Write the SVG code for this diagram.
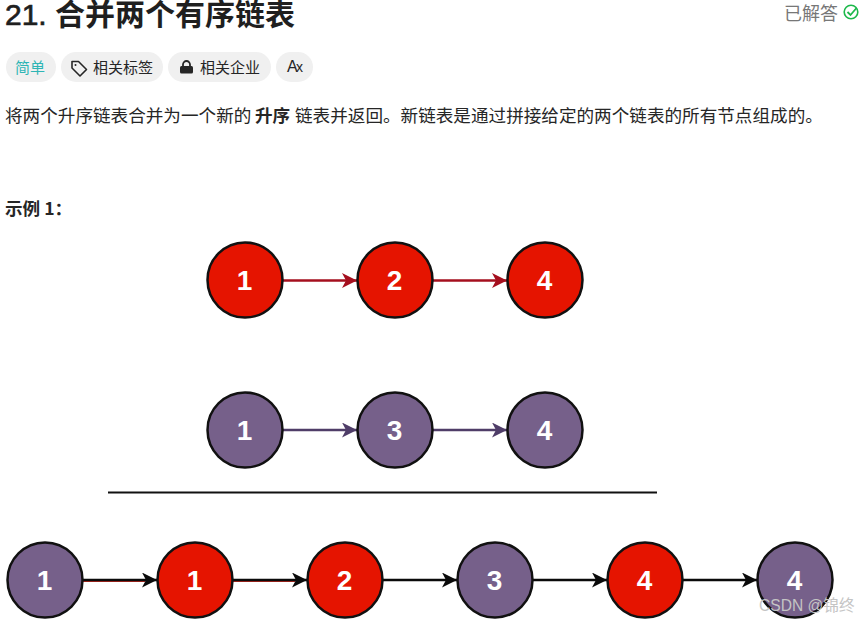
<svg xmlns="http://www.w3.org/2000/svg" width="859" height="621" viewBox="0 0 859 621">
<style>
text{font-family:"Liberation Sans","Noto Sans CJK SC",sans-serif}
.cn{font-family:"Noto Sans CJK SC","Liberation Sans",sans-serif}
.pill{fill:#f0f0f0}
.tag{font-size:15px;fill:#262626}
.body{font-size:17.600px;fill:#262626}
.n{stroke:#111;stroke-width:2.500}
.red{fill:#e51400}
.pur{fill:#76608a}
.l{font-size:28px;font-weight:bold;fill:#fff;text-anchor:middle}
.c{fill:none;stroke-width:2.400}
.u{fill:none;stroke:#c0281e;stroke-width:1}
</style>
<defs>
<marker id="ar" markerWidth="16" markerHeight="16" refX="15" refY="7.500" orient="auto" markerUnits="userSpaceOnUse"><path d="M0 0L15 7.500L0 15L4 7.500Z" fill="#a50f1e"/></marker>
<marker id="ap" markerWidth="16" markerHeight="16" refX="15" refY="7.500" orient="auto" markerUnits="userSpaceOnUse"><path d="M0 0L15 7.500L0 15L4 7.500Z" fill="#4f3d68"/></marker>
<marker id="ab" markerWidth="16" markerHeight="16" refX="15" refY="7.500" orient="auto" markerUnits="userSpaceOnUse"><path d="M0 0L15 7.500L0 15L4 7.500Z" fill="#0a0a0a"/></marker>
</defs>
<rect width="859" height="621" fill="#fff"/>
<g id="header">
<text y="25" font-size="30" fill="#1f1f1f"><tspan x="5" stroke="#1f1f1f" stroke-width=".7">21.</tspan><tspan class="cn" x="55" font-weight="bold">合并两个有序链表</tspan></text>
<text x="784" y="20" font-size="18" fill="#777" class="cn">已解答</text>
<circle cx="851" cy="12" r="6.800" fill="none" stroke="#1cb84a" stroke-width="1.600"/>
<path d="M847.500 12L850.500 15L856.500 8" fill="none" stroke="#1cb84a" stroke-width="1.800"/>
</g>
<g id="tags">
<rect class="pill" x="6" y="52" width="50" height="30" rx="15"/>
<text x="15" y="73" font-size="15" fill="#2db5b5" class="cn">简单</text>
<rect class="pill" x="61" y="52" width="102" height="30" rx="15"/>
<path d="M72 61.500V68L80 76L86.500 69.500L78.500 61.500Z" fill="none" stroke="#262626" stroke-width="1.600" stroke-linejoin="round"/>
<circle cx="75.500" cy="65" r="1" fill="#262626"/>
<text x="93" y="73" class="tag cn">相关标签</text>
<rect class="pill" x="168" y="52" width="103" height="30" rx="15"/>
<rect x="180" y="66" width="13" height="7.500" rx="1.500" fill="#262626"/>
<path d="M183 66V64.500A3.500 3.500 0 0 1 190 64.500V66" fill="none" stroke="#262626" stroke-width="1.800"/>
<text x="200" y="73" class="tag cn">相关企业</text>
<rect class="pill" x="276" y="52" width="37" height="30" rx="15"/>
<text x="287" y="72" font-size="16" fill="#262626">A</text>
<text x="296" y="72" font-size="14" fill="#262626">x</text>
</g>
<g id="description">
<text y="122" class="body cn"><tspan x="5">将两个升序链表合并为一个新的</tspan><tspan x="255" font-weight="bold">升序</tspan><tspan x="295">链表并返回。新链表是通过拼接给定的两个链表的所有节点组成的。</tspan></text>
<text y="215" class="body" font-weight="bold"><tspan x="5" class="cn">示例 1：</tspan></text>
</g>
<g id="connectors">
<path class="c" stroke="#a50f1e" marker-end="url(#ar)" d="M283 280.500H357"/>
<path class="c" stroke="#a50f1e" marker-end="url(#ar)" d="M433 280.500H507"/>
<path class="c" stroke="#4f3d68" marker-end="url(#ap)" d="M283 430H357"/>
<path class="c" stroke="#4f3d68" marker-end="url(#ap)" d="M433 430H507"/>
<path class="u" d="M83 581.500H145M233 581.500H295"/>
<path class="c" stroke="#0a0a0a" marker-end="url(#ab)" d="M83 580H157"/>
<path class="c" stroke="#0a0a0a" marker-end="url(#ab)" d="M233 580H307"/>
<path class="c" stroke="#0a0a0a" marker-end="url(#ab)" d="M383 580H457"/>
<path class="c" stroke="#0a0a0a" marker-end="url(#ab)" d="M533 580H607"/>
<path class="c" stroke="#0a0a0a" marker-end="url(#ab)" d="M683 580H757"/>
</g>
<path id="divider" d="M108 492.500H657" stroke="#111" stroke-width="2.200"/>
<g id="a1"><circle class="n red" cx="245" cy="280" r="37.500"/><text class="l" x="244.500" y="290">1</text></g>
<g id="a2"><circle class="n red" cx="395" cy="280" r="37.500"/><text class="l" x="394.500" y="290">2</text></g>
<g id="a3"><circle class="n red" cx="545" cy="280" r="37.500"/><text class="l" x="544.500" y="290">4</text></g>
<g id="b1"><circle class="n pur" cx="245" cy="430" r="37.500"/><text class="l" x="244.500" y="440">1</text></g>
<g id="b2"><circle class="n pur" cx="395" cy="430" r="37.500"/><text class="l" x="394.500" y="440">3</text></g>
<g id="b3"><circle class="n pur" cx="545" cy="430" r="37.500"/><text class="l" x="544.500" y="440">4</text></g>
<g id="c1"><circle class="n pur" cx="45" cy="580" r="37.500"/><text class="l" x="44.500" y="590">1</text></g>
<g id="c2"><circle class="n red" cx="195" cy="580" r="37.500"/><text class="l" x="194.500" y="590">1</text></g>
<g id="c3"><circle class="n red" cx="345" cy="580" r="37.500"/><text class="l" x="344.500" y="590">2</text></g>
<g id="c4"><circle class="n pur" cx="495" cy="580" r="37.500"/><text class="l" x="494.500" y="590">3</text></g>
<g id="c5"><circle class="n red" cx="645" cy="580" r="37.500"/><text class="l" x="644.500" y="590">4</text></g>
<g id="c6"><circle class="n pur" cx="795" cy="580" r="37.500"/><text class="l" x="794.500" y="590">4</text></g>
<text id="watermark" x="759" y="611" font-size="15.600" fill="#c4c4c4">CSDN @锦终</text>
</svg>
